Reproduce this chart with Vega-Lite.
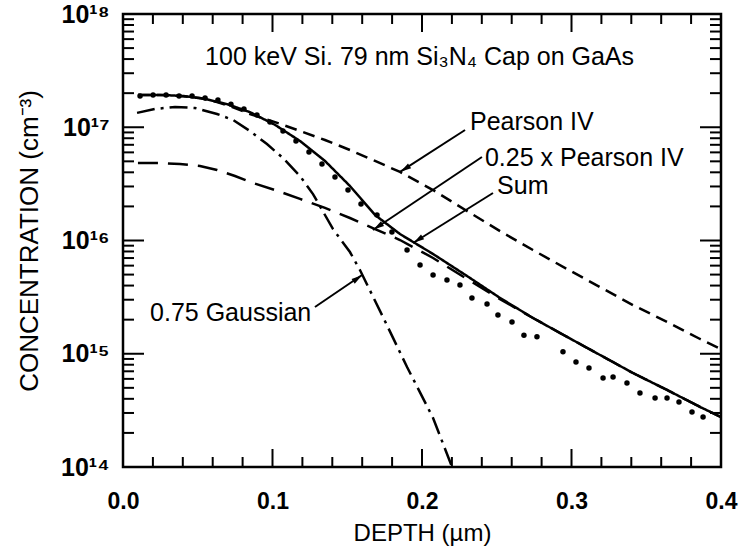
{
  "$schema": "https://vega.github.io/schema/vega-lite/v6.json",
  "width": 598,
  "height": 453,
  "autosize": "none",
  "padding": {"left": 123, "top": 14, "right": 21, "bottom": 87},
  "background": "white",
  "config": {
    "font": "Liberation Sans",
    "view": {"stroke": "black", "strokeWidth": 2.5},
    "axis": {"grid": false, "domain": false, "ticks": false, "labelColor": "black", "titleColor": "black", "labelFont": "Liberation Sans", "titleFont": "Liberation Sans", "titleFontWeight": "normal"}
  },
  "datasets": {
    "curves": [
      {"series": "Pearson IV", "depth": 0.0100, "conc": 1.93e17},
      {"series": "Pearson IV", "depth": 0.0247, "conc": 1.93e17},
      {"series": "Pearson IV", "depth": 0.0381, "conc": 1.89e17},
      {"series": "Pearson IV", "depth": 0.0515, "conc": 1.81e17},
      {"series": "Pearson IV", "depth": 0.0629, "conc": 1.67e17},
      {"series": "Pearson IV", "depth": 0.0749, "conc": 1.48e17},
      {"series": "Pearson IV", "depth": 0.0849, "conc": 1.31e17},
      {"series": "Pearson IV", "depth": 0.1017, "conc": 1.11e17},
      {"series": "Pearson IV", "depth": 0.1184, "conc": 9.27e16},
      {"series": "Pearson IV", "depth": 0.1351, "conc": 7.72e16},
      {"series": "Pearson IV", "depth": 0.1518, "conc": 6.30e16},
      {"series": "Pearson IV", "depth": 0.1686, "conc": 5.04e16},
      {"series": "Pearson IV", "depth": 0.1853, "conc": 4.03e16},
      {"series": "Pearson IV", "depth": 0.2074, "conc": 2.79e16},
      {"series": "Pearson IV", "depth": 0.2301, "conc": 1.82e16},
      {"series": "Pearson IV", "depth": 0.2522, "conc": 1.21e16},
      {"series": "Pearson IV", "depth": 0.2742, "conc": 8.24e15},
      {"series": "Pearson IV", "depth": 0.2970, "conc": 5.60e15},
      {"series": "Pearson IV", "depth": 0.3191, "conc": 3.88e15},
      {"series": "Pearson IV", "depth": 0.3411, "conc": 2.69e15},
      {"series": "Pearson IV", "depth": 0.3639, "conc": 1.91e15},
      {"series": "Pearson IV", "depth": 0.3860, "conc": 1.35e15},
      {"series": "Pearson IV", "depth": 0.4000, "conc": 1.10e15},

      {"series": "0.25 x Pearson IV", "depth": 0.0100, "conc": 4.83e16},
      {"series": "0.25 x Pearson IV", "depth": 0.0247, "conc": 4.83e16},
      {"series": "0.25 x Pearson IV", "depth": 0.0381, "conc": 4.74e16},
      {"series": "0.25 x Pearson IV", "depth": 0.0515, "conc": 4.55e16},
      {"series": "0.25 x Pearson IV", "depth": 0.0629, "conc": 4.19e16},
      {"series": "0.25 x Pearson IV", "depth": 0.0749, "conc": 3.71e16},
      {"series": "0.25 x Pearson IV", "depth": 0.0849, "conc": 3.29e16},
      {"series": "0.25 x Pearson IV", "depth": 0.1017, "conc": 2.79e16},
      {"series": "0.25 x Pearson IV", "depth": 0.1184, "conc": 2.33e16},
      {"series": "0.25 x Pearson IV", "depth": 0.1351, "conc": 1.94e16},
      {"series": "0.25 x Pearson IV", "depth": 0.1518, "conc": 1.58e16},
      {"series": "0.25 x Pearson IV", "depth": 0.1686, "conc": 1.26e16},
      {"series": "0.25 x Pearson IV", "depth": 0.1853, "conc": 1.01e16},
      {"series": "0.25 x Pearson IV", "depth": 0.2074, "conc": 7.01e15},
      {"series": "0.25 x Pearson IV", "depth": 0.2301, "conc": 4.57e15},
      {"series": "0.25 x Pearson IV", "depth": 0.2522, "conc": 3.04e15},
      {"series": "0.25 x Pearson IV", "depth": 0.2742, "conc": 2.07e15},
      {"series": "0.25 x Pearson IV", "depth": 0.2970, "conc": 1.41e15},
      {"series": "0.25 x Pearson IV", "depth": 0.3191, "conc": 9.75e14},
      {"series": "0.25 x Pearson IV", "depth": 0.3411, "conc": 6.76e14},
      {"series": "0.25 x Pearson IV", "depth": 0.3639, "conc": 4.79e14},
      {"series": "0.25 x Pearson IV", "depth": 0.3860, "conc": 3.39e14},
      {"series": "0.25 x Pearson IV", "depth": 0.4000, "conc": 2.76e14},

      {"series": "Sum", "depth": 0.0100, "conc": 1.93e17},
      {"series": "Sum", "depth": 0.0247, "conc": 1.93e17},
      {"series": "Sum", "depth": 0.0401, "conc": 1.89e17},
      {"series": "Sum", "depth": 0.0549, "conc": 1.78e17},
      {"series": "Sum", "depth": 0.0696, "conc": 1.60e17},
      {"series": "Sum", "depth": 0.0849, "conc": 1.36e17},
      {"series": "Sum", "depth": 0.1017, "conc": 1.05e17},
      {"series": "Sum", "depth": 0.1184, "conc": 7.56e16},
      {"series": "Sum", "depth": 0.1351, "conc": 5.04e16},
      {"series": "Sum", "depth": 0.1518, "conc": 3.03e16},
      {"series": "Sum", "depth": 0.1686, "conc": 1.68e16},
      {"series": "Sum", "depth": 0.1853, "conc": 1.14e16},
      {"series": "Sum", "depth": 0.2074, "conc": 7.60e15},
      {"series": "Sum", "depth": 0.2301, "conc": 4.86e15},
      {"series": "Sum", "depth": 0.2522, "conc": 3.11e15},
      {"series": "Sum", "depth": 0.2742, "conc": 2.07e15},
      {"series": "Sum", "depth": 0.2970, "conc": 1.41e15},
      {"series": "Sum", "depth": 0.3191, "conc": 9.75e14},
      {"series": "Sum", "depth": 0.3411, "conc": 6.76e14},
      {"series": "Sum", "depth": 0.3639, "conc": 4.79e14},
      {"series": "Sum", "depth": 0.3860, "conc": 3.39e14},
      {"series": "Sum", "depth": 0.4000, "conc": 2.76e14},

      {"series": "0.75 Gaussian", "depth": 0.0094, "conc": 1.34e17},
      {"series": "0.75 Gaussian", "depth": 0.0214, "conc": 1.45e17},
      {"series": "0.75 Gaussian", "depth": 0.0348, "conc": 1.51e17},
      {"series": "0.75 Gaussian", "depth": 0.0482, "conc": 1.48e17},
      {"series": "0.75 Gaussian", "depth": 0.0629, "conc": 1.31e17},
      {"series": "0.75 Gaussian", "depth": 0.0736, "conc": 1.16e17},
      {"series": "0.75 Gaussian", "depth": 0.0849, "conc": 9.27e16},
      {"series": "0.75 Gaussian", "depth": 0.0963, "conc": 7.11e16},
      {"series": "0.75 Gaussian", "depth": 0.1070, "conc": 5.35e16},
      {"series": "0.75 Gaussian", "depth": 0.1184, "conc": 3.71e16},
      {"series": "0.75 Gaussian", "depth": 0.1271, "conc": 2.57e16},
      {"series": "0.75 Gaussian", "depth": 0.1405, "conc": 1.26e16},
      {"series": "0.75 Gaussian", "depth": 0.1518, "conc": 7.91e15},
      {"series": "0.75 Gaussian", "depth": 0.1585, "conc": 5.49e15},
      {"series": "0.75 Gaussian", "depth": 0.1739, "conc": 2.11e15},
      {"series": "0.75 Gaussian", "depth": 0.1900, "conc": 7.64e14},
      {"series": "0.75 Gaussian", "depth": 0.2074, "conc": 2.71e14},
      {"series": "0.75 Gaussian", "depth": 0.2201, "conc": 1.0e14}
    ],
    "measured": [
      {"depth": 0.0114, "conc": 1.89e17}, {"depth": 0.0201, "conc": 1.93e17}, {"depth": 0.0288, "conc": 1.93e17},
      {"depth": 0.0375, "conc": 1.89e17}, {"depth": 0.0462, "conc": 1.89e17}, {"depth": 0.0549, "conc": 1.81e17},
      {"depth": 0.0635, "conc": 1.74e17}, {"depth": 0.0722, "conc": 1.60e17}, {"depth": 0.0809, "conc": 1.45e17},
      {"depth": 0.0896, "conc": 1.28e17}, {"depth": 0.0983, "conc": 1.11e17}, {"depth": 0.1070, "conc": 9.27e16},
      {"depth": 0.1157, "conc": 7.56e16}, {"depth": 0.1244, "conc": 6.05e16}, {"depth": 0.1331, "conc": 4.74e16},
      {"depth": 0.1418, "conc": 3.64e16}, {"depth": 0.1505, "conc": 2.79e16}, {"depth": 0.1592, "conc": 2.10e16},
      {"depth": 0.1699, "conc": 1.68e16}, {"depth": 0.1799, "conc": 1.19e16}, {"depth": 0.1900, "conc": 8.24e15},
      {"depth": 0.1987, "conc": 6.08e15}, {"depth": 0.2074, "conc": 4.96e15}, {"depth": 0.2167, "conc": 4.48e15},
      {"depth": 0.2254, "conc": 4.05e15}, {"depth": 0.2334, "conc": 3.11e15}, {"depth": 0.2435, "conc": 2.75e15},
      {"depth": 0.2508, "conc": 2.20e15}, {"depth": 0.2602, "conc": 1.91e15}, {"depth": 0.2682, "conc": 1.46e15},
      {"depth": 0.2769, "conc": 1.41e15}, {"depth": 0.2943, "conc": 1.04e15}, {"depth": 0.3030, "conc": 8.46e14},
      {"depth": 0.3117, "conc": 7.48e14}, {"depth": 0.3211, "conc": 6.11e14}, {"depth": 0.3278, "conc": 6.23e14},
      {"depth": 0.3371, "conc": 5.52e14}, {"depth": 0.3458, "conc": 4.50e14}, {"depth": 0.3559, "conc": 4.07e14},
      {"depth": 0.3639, "conc": 4.07e14}, {"depth": 0.3719, "conc": 3.75e14}, {"depth": 0.3806, "conc": 3.06e14},
      {"depth": 0.3880, "conc": 2.76e14}
    ],
    "notes": [
      {"text": "100 keV Si. 79 nm Si₃N₄ Cap on GaAs", "depth": 0.0549, "conc": 4.17e17},
      {"text": "Pearson IV", "depth": 0.2321, "conc": 1.113e17},
      {"text": "0.25 x Pearson IV", "depth": 0.2421, "conc": 5.35e16},
      {"text": "Sum", "depth": 0.2502, "conc": 3.03e16},
      {"text": "0.75 Gaussian", "depth": 0.0181, "conc": 2.29e15}
    ],
    "arrows": [
      {"label": "Pearson IV", "x0": 0.2288, "y0": 9.46e16, "x1": 0.1853, "y1": 4.03e16, "hx": 0.1892, "hy": 4.35e16},
      {"label": "0.25 x Pearson IV", "x0": 0.2401, "y0": 5.46e16, "x1": 0.1672, "y1": 1.238e16, "hx": 0.1711, "hy": 1.34e16},
      {"label": "Sum", "x0": 0.2475, "y0": 2.626e16, "x1": 0.1940, "y1": 9.50e15, "hx": 0.1979, "hy": 1.025e16},
      {"label": "0.75 Gaussian", "x0": 0.1284, "y0": 2.587e15, "x1": 0.1599, "y1": 4.96e15, "hx": 0.1564, "hy": 4.58e15}
    ],
    "xmajor": [{"depth": 0}, {"depth": 0.1}, {"depth": 0.2}, {"depth": 0.3}, {"depth": 0.4}],
    "xminor": [
      {"depth": 0.02}, {"depth": 0.04}, {"depth": 0.06}, {"depth": 0.08},
      {"depth": 0.12}, {"depth": 0.14}, {"depth": 0.16}, {"depth": 0.18},
      {"depth": 0.22}, {"depth": 0.24}, {"depth": 0.26}, {"depth": 0.28},
      {"depth": 0.32}, {"depth": 0.34}, {"depth": 0.36}, {"depth": 0.38}
    ],
    "ymajor": [{"conc": 1e14}, {"conc": 1e15}, {"conc": 1e16}, {"conc": 1e17}, {"conc": 1e18}],
    "yminor": [
      {"conc": 2e14}, {"conc": 3e14}, {"conc": 4e14}, {"conc": 5e14}, {"conc": 6e14}, {"conc": 7e14}, {"conc": 8e14}, {"conc": 9e14},
      {"conc": 2e15}, {"conc": 3e15}, {"conc": 4e15}, {"conc": 5e15}, {"conc": 6e15}, {"conc": 7e15}, {"conc": 8e15}, {"conc": 9e15},
      {"conc": 2e16}, {"conc": 3e16}, {"conc": 4e16}, {"conc": 5e16}, {"conc": 6e16}, {"conc": 7e16}, {"conc": 8e16}, {"conc": 9e16},
      {"conc": 2e17}, {"conc": 3e17}, {"conc": 4e17}, {"conc": 5e17}, {"conc": 6e17}, {"conc": 7e17}, {"conc": 8e17}, {"conc": 9e17}
    ]
  },
  "layer": [
    {
      "data": {"name": "curves"},
      "mark": {"type": "line", "color": "black", "strokeWidth": 2.5, "clip": true},
      "encoding": {
        "x": {
          "field": "depth", "type": "quantitative",
          "scale": {"domain": [0, 0.4], "nice": false, "zero": false},
          "axis": {
            "orient": "bottom",
            "values": [0, 0.1, 0.2, 0.3, 0.4],
            "format": ".1f",
            "labelFontSize": 23, "labelFontWeight": "bold", "labelPadding": 23, "labelFlush": false,
            "title": "DEPTH (µm)", "titleFontSize": 24, "titlePadding": 8
          }
        },
        "y": {
          "field": "conc", "type": "quantitative",
          "scale": {"type": "log", "domain": [1e14, 1e18], "nice": false},
          "axis": {
            "orient": "left",
            "values": [1e14, 1e15, 1e16, 1e17, 1e18],
            "labelExpr": "datum.value == 1e14 ? '10¹⁴' : datum.value == 1e15 ? '10¹⁵' : datum.value == 1e16 ? '10¹⁶' : datum.value == 1e17 ? '10¹⁷' : '10¹⁸'",
            "labelFontSize": 25, "labelFontWeight": "bold", "labelPadding": 14, "labelFlush": false,
            "title": "CONCENTRATION  (cm⁻³)", "titleFontSize": 26, "titlePadding": 18
          }
        },
        "strokeDash": {
          "field": "series", "type": "nominal", "legend": null,
          "scale": {"domain": ["Pearson IV", "0.25 x Pearson IV", "Sum", "0.75 Gaussian"], "range": [[12, 7], [20, 10], [1, 0], [18, 6, 3, 6]]}
        },
        "detail": {"field": "series"}
      }
    },
    {
      "data": {"name": "measured"},
      "mark": {"type": "point", "filled": true, "color": "black", "size": 30, "opacity": 1},
      "encoding": {
        "x": {"field": "depth", "type": "quantitative", "axis": null},
        "y": {"field": "conc", "type": "quantitative", "axis": null}
      }
    },
    {
      "data": {"name": "xmajor"},
      "mark": {"type": "point", "shape": "M0,0L0,-1", "filled": false, "color": "black", "strokeWidth": 2, "size": 1296, "opacity": 1},
      "encoding": {
        "x": {"field": "depth", "type": "quantitative", "axis": null},
        "y": {"datum": 1e14, "type": "quantitative", "axis": null}
      }
    },
    {
      "data": {"name": "xmajor"},
      "mark": {"type": "point", "shape": "M0,0L0,1", "filled": false, "color": "black", "strokeWidth": 2, "size": 1296, "opacity": 1},
      "encoding": {
        "x": {"field": "depth", "type": "quantitative", "axis": null},
        "y": {"datum": 1e18, "type": "quantitative", "axis": null}
      }
    },
    {
      "data": {"name": "xminor"},
      "mark": {"type": "point", "shape": "M0,0L0,-1", "filled": false, "color": "black", "strokeWidth": 2, "size": 400, "opacity": 1},
      "encoding": {
        "x": {"field": "depth", "type": "quantitative", "axis": null},
        "y": {"datum": 1e14, "type": "quantitative", "axis": null}
      }
    },
    {
      "data": {"name": "xminor"},
      "mark": {"type": "point", "shape": "M0,0L0,1", "filled": false, "color": "black", "strokeWidth": 2, "size": 400, "opacity": 1},
      "encoding": {
        "x": {"field": "depth", "type": "quantitative", "axis": null},
        "y": {"datum": 1e18, "type": "quantitative", "axis": null}
      }
    },
    {
      "data": {"name": "ymajor"},
      "mark": {"type": "point", "shape": "M0,0L1,0", "filled": false, "color": "black", "strokeWidth": 2, "size": 1764, "opacity": 1},
      "encoding": {
        "x": {"datum": 0, "type": "quantitative", "axis": null},
        "y": {"field": "conc", "type": "quantitative", "axis": null}
      }
    },
    {
      "data": {"name": "ymajor"},
      "mark": {"type": "point", "shape": "M0,0L-1,0", "filled": false, "color": "black", "strokeWidth": 2, "size": 1764, "opacity": 1},
      "encoding": {
        "x": {"datum": 0.4, "type": "quantitative", "axis": null},
        "y": {"field": "conc", "type": "quantitative", "axis": null}
      }
    },
    {
      "data": {"name": "yminor"},
      "mark": {"type": "point", "shape": "M0,0L1,0", "filled": false, "color": "black", "strokeWidth": 2, "size": 484, "opacity": 1},
      "encoding": {
        "x": {"datum": 0, "type": "quantitative", "axis": null},
        "y": {"field": "conc", "type": "quantitative", "axis": null}
      }
    },
    {
      "data": {"name": "yminor"},
      "mark": {"type": "point", "shape": "M0,0L-1,0", "filled": false, "color": "black", "strokeWidth": 2, "size": 484, "opacity": 1},
      "encoding": {
        "x": {"datum": 0.4, "type": "quantitative", "axis": null},
        "y": {"field": "conc", "type": "quantitative", "axis": null}
      }
    },
    {
      "data": {"name": "arrows"},
      "mark": {"type": "rule", "color": "black", "strokeWidth": 2},
      "encoding": {
        "x": {"field": "x0", "type": "quantitative", "axis": null},
        "y": {"field": "y0", "type": "quantitative", "axis": null},
        "x2": {"field": "x1"},
        "y2": {"field": "y1"}
      }
    },
    {
      "data": {"name": "arrows"},
      "transform": [{"filter": "datum.label != '0.75 Gaussian'"}],
      "mark": {"type": "point", "shape": "M0,-1L0.45,0.7L-0.45,0.7Z", "filled": true, "color": "black", "size": 160, "opacity": 1, "angle": 237},
      "encoding": {
        "x": {"field": "hx", "type": "quantitative", "axis": null},
        "y": {"field": "hy", "type": "quantitative", "axis": null}
      }
    },
    {
      "data": {"name": "arrows"},
      "transform": [{"filter": "datum.label == '0.75 Gaussian'"}],
      "mark": {"type": "point", "shape": "M0,-1L0.45,0.7L-0.45,0.7Z", "filled": true, "color": "black", "size": 160, "opacity": 1, "angle": 56},
      "encoding": {
        "x": {"field": "hx", "type": "quantitative", "axis": null},
        "y": {"field": "hy", "type": "quantitative", "axis": null}
      }
    },
    {
      "data": {"name": "notes"},
      "mark": {"type": "text", "align": "left", "baseline": "middle", "fontSize": 25, "color": "black", "font": "Liberation Sans"},
      "encoding": {
        "x": {"field": "depth", "type": "quantitative", "axis": null},
        "y": {"field": "conc", "type": "quantitative", "axis": null},
        "text": {"field": "text"}
      }
    }
  ],
  "resolve": {"axis": {"x": "independent", "y": "independent"}}
}
